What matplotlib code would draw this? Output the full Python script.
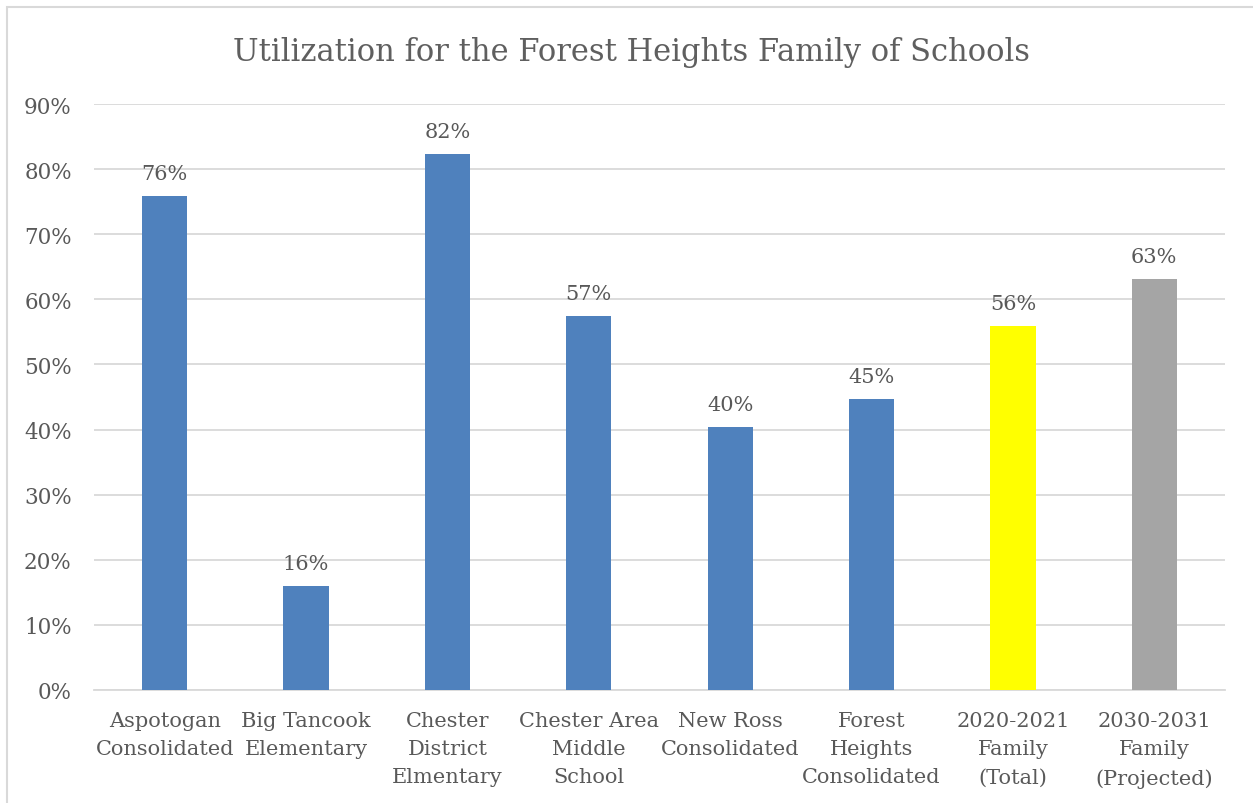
import matplotlib
matplotlib.use("Agg")
import matplotlib.pyplot as plt
from matplotlib.patches import Rectangle
from matplotlib.ticker import FuncFormatter

schools = ['Aspotogan\nConsolidated', 'Big Tancook\nElementary', 'Chester\nDistrict\nElmentary',
           'Chester Area\nMiddle\nSchool', 'New Ross\nConsolidated', 'Forest\nHeights\nConsolidated',
           '2020-2021\nFamily\n(Total)', '2030-2031\nFamily\n(Projected)']
utilization = [0.759, 0.160, 0.823, 0.574, 0.404, 0.447, 0.559, 0.631]
labels = ['76%', '16%', '82%', '57%', '40%', '45%', '56%', '63%']
colors = ['#4f81bd'] * 6 + ['#ffff00', '#a5a5a5']

txt = '#595959'
plt.rcParams['font.family'] = ['DejaVu Serif']

fig = plt.figure(figsize=(12.53, 8.04), dpi=100)
fig.patches.append(Rectangle((7 / 1253, -0.1), 1.2, 1.1 - 8 / 804, transform=fig.transFigure,
                             fill=False, edgecolor='#d9d9d9', linewidth=1.5))
ax = fig.add_axes([94 / 1253, 1 - 691 / 804, (1225 - 94) / 1253, (691 - 105) / 804])

x = range(len(schools))
bars = ax.bar(x, utilization, width=0.32, color=colors, zorder=3)
for b, lab in zip(bars, labels):
    ax.text(b.get_x() + b.get_width() / 2, b.get_height() + 0.02, lab,
            ha='center', va='bottom', fontsize=15, color=txt)

ax.set_xlim(-0.5, len(schools) - 0.5)
ax.set_ylim(0, 0.9)
ax.set_yticks([i / 10 for i in range(10)])
ax.yaxis.set_major_formatter(FuncFormatter(lambda v, p: f'{v * 100:.0f}%'))
ax.set_xticks(list(x))
ax.set_xticklabels(schools, fontsize=15, color=txt, linespacing=1.62)
ax.tick_params(axis='y', labelsize=15.5, labelcolor=txt, length=0, pad=16)
ax.tick_params(axis='x', length=0, pad=15)
ax.grid(axis='y', color='#d9d9d9', linewidth=1.3, zorder=0)
for s in ['top', 'right', 'left']:
    ax.spines[s].set_visible(False)
ax.spines['bottom'].set_color('#d9d9d9')
ax.spines['bottom'].set_linewidth(1.3)

fig.text(0.504, 1 - 52 / 804, 'Utilization for the Forest Heights Family of Schools',
         ha='center', va='center', fontsize=22, color='#5f5f5f')

fig.savefig('out.png', dpi=100)
